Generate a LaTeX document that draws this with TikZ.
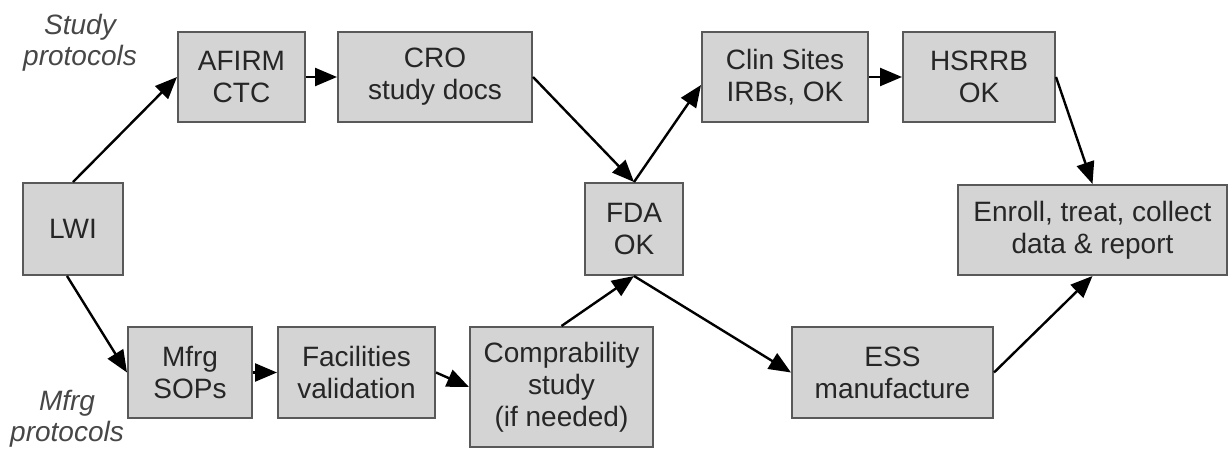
\documentclass[tikz,border=0pt]{standalone}
\usepackage{fontspec}
\setmainfont{Liberation Sans}
\usetikzlibrary{arrows.meta}
\tikzset{
  stepbox/.style={draw=black!65,fill=black!17,line width=1pt,align=center,
    inner sep=0pt,text=black!85,font=\fontsize{14}{16}\selectfont},
  flow/.style={-{Triangle[length=11pt,width=9pt]},line width=1.2pt},
  sidelbl/.style={align=center,text=black!72,font=\itshape\fontsize{14}{15.5}\selectfont},
}
\begin{document}
\begin{tikzpicture}[x=0.5pt,y=-0.5pt]
  \useasboundingbox (0,0) rectangle (1230,449);
  % side labels
  \node[sidelbl] (studylbl) at (80,43) {Study\\protocols};
  \node[sidelbl] (mfrglbl) at (67,419) {Mfrg\\protocols};
  % boxes
  \node[stepbox,minimum width=50pt,minimum height=46pt] (lwi) at (73,229) {LWI};
  \node[stepbox,minimum width=63.5pt,minimum height=45pt] (afirm) at (241.5,77) {AFIRM\\CTC};
  \node[stepbox,minimum width=97pt,minimum height=45pt] (cro) at (435,77) {CRO\\study docs};
  \node[stepbox,minimum width=83pt,minimum height=45pt] (clin) at (785,77) {Clin Sites\\IRBs, OK};
  \node[stepbox,minimum width=76pt,minimum height=45pt] (hsrrb) at (979,77) {HSRRB\\OK};
  \node[stepbox,minimum width=49pt,minimum height=46pt] (fda) at (634,229) {FDA\\OK};
  \node[stepbox,minimum width=134.5pt,minimum height=45pt] (enroll) at (1092.5,230) {Enroll, treat, collect\\data \& report};
  \node[stepbox,minimum width=62pt,minimum height=45.5pt] (mfrg) at (190,372.5) {Mfrg\\SOPs};
  \node[stepbox,minimum width=78.5pt,minimum height=45.5pt] (facil) at (356.5,372.5) {Facilities\\validation};
  \node[stepbox,minimum width=91.5pt,minimum height=60pt] (compr) at (561.5,387) {Comprability\\study\\(if needed)};
  \node[stepbox,minimum width=100.5pt,minimum height=45.5pt] (ess) at (892.5,372.5) {ESS\\manufacture};
  % study branch
  \draw[flow] (lwi.north) -- (afirm.west);
  \draw[flow] (afirm.east) -- (cro.west);
  \draw[flow] (cro.east) -- (fda.north);
  \draw[flow] (fda.north) -- ([yshift=-4pt]clin.west);
  \draw[flow] (clin.east) -- (hsrrb.west);
  \draw[flow] (hsrrb.east) -- (enroll.north);
  % manufacturing branch
  \draw[flow] ([xshift=-3pt]lwi.south) -- (mfrg.west);
  \draw[flow] (mfrg.east) -- (facil.west);
  \draw[flow] (facil.east) -- (compr.west);
  \draw[flow] (compr.north) -- (fda.south);
  \draw[flow] (fda.south) -- (ess.west);
  \draw[flow] (ess.east) -- (enroll.south);
\end{tikzpicture}
\end{document}
